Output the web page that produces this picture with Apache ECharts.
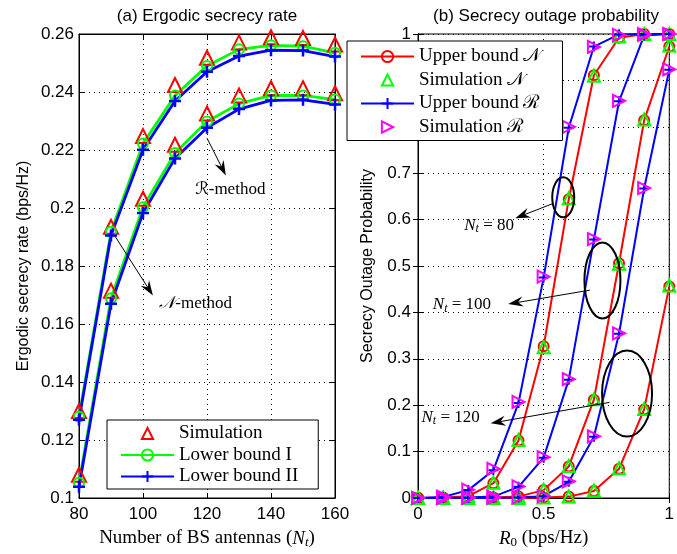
<!DOCTYPE html>
<html><head><meta charset="utf-8">
<script src="https://cdn.jsdelivr.net/npm/echarts@6/dist/echarts.min.js"></script>
<style>html,body{margin:0;padding:0;background:#fff}#c{width:677px;height:554px}</style>
</head><body><div id="c"></div>
<script>
// ---------- data: (a) ergodic secrecy rate ----------
const antennas = [80, 90, 100, 110, 120, 130, 140, 150, 160];
const simN   = [0.130, 0.1935, 0.2248, 0.2424, 0.2518, 0.2571, 0.2589, 0.2586, 0.2564];
const lbI_N  = [0.128, 0.1918, 0.2222, 0.2388, 0.2490, 0.2547, 0.2561, 0.2558, 0.2535];
const lbII_N = [0.127, 0.1905, 0.2201, 0.2369, 0.2470, 0.2524, 0.2544, 0.2543, 0.2522];
const simR   = [0.108, 0.1715, 0.2032, 0.2218, 0.2326, 0.2388, 0.2413, 0.2413, 0.2396];
const lbI_R  = [0.1053, 0.1689, 0.2003, 0.2190, 0.2298, 0.2360, 0.2388, 0.2388, 0.2374];
const lbII_R = [0.1039, 0.1670, 0.1983, 0.2171, 0.2277, 0.2341, 0.2371, 0.2373, 0.2357];
const ticksA_x = [80, 160, 20];
const ticksA_y = [0.1, 0.26, 0.02];

// ---------- data: (b) secrecy outage probability ----------
const R0 = [0, 0.1, 0.2, 0.3, 0.4, 0.5, 0.6, 0.7, 0.8, 0.9, 1.0];
const upN80   = [0, 0.001, 0.004, 0.032, 0.124, 0.327, 0.644, 0.911, 0.992, 1, 1];
const simN80  = [0, 0.001, 0.005, 0.033, 0.125, 0.325, 0.646, 0.910, 0.995, 1, 1];
const upR80   = [0, 0.002, 0.017, 0.060, 0.205, 0.475, 0.798, 0.973, 0.999, 1, 1];
const simR80  = [0, 0.003, 0.018, 0.063, 0.207, 0.477, 0.800, 0.972, 0.998, 1, 1];
const upN100  = [0, 0, 0, 0.001, 0.003, 0.017, 0.068, 0.212, 0.506, 0.814, 0.973];
const simN100 = [0, 0, 0, 0.001, 0.003, 0.018, 0.069, 0.213, 0.505, 0.816, 0.975];
const upR100  = [0, 0, 0.001, 0.003, 0.024, 0.087, 0.255, 0.557, 0.855, 0.997, 1];
const simR100 = [0, 0, 0.001, 0.003, 0.025, 0.088, 0.256, 0.558, 0.856, 0.998, 1];
const upN120  = [0, 0, 0, 0, 0, 0.001, 0.003, 0.015, 0.063, 0.191, 0.456];
const simN120 = [0, 0, 0, 0, 0, 0.001, 0.003, 0.016, 0.064, 0.192, 0.458];
const upR120  = [0, 0, 0, 0, 0.001, 0.004, 0.035, 0.132, 0.354, 0.667, 0.923];
const simR120 = [0, 0, 0, 0, 0.001, 0.004, 0.036, 0.133, 0.355, 0.668, 0.924];
const ticksB_x = [0, 1, 0.5];
const ticksB_y = [0, 1, 0.1];

// ---------- styling ----------
const SANS = 'Liberation Sans, Arial, sans-serif';
const SERIF = 'Liberation Serif, DejaVu Serif, serif';
const MATH = 'DejaVu Serif, DejaVu Sans, Noto Sans, serif';
const TRANSP = 'rgba(0,0,0,0)';
const PLUS = 'path://M5,0L5,10M0,5L10,5';

const pairs = (xs, ys) => xs.map((x, i) => [x, ys[i]]);

function mkLine(name, xs, ys, color, symbol, size, grid, lw, bw) {
  return {
    type: 'line', name, xAxisIndex: grid * 2, yAxisIndex: grid * 2,
    data: pairs(xs, ys), symbol, symbolSize: size, showAllSymbol: true, clip: false,
    lineStyle: { color, width: lw }, itemStyle: { color: TRANSP, borderColor: color, borderWidth: bw },
    emphasis: { disabled: true }, z: 3
  };
}
// markers only (no connecting line)
function mkMarks(name, xs, ys, color, symbol, size, grid, rot) {
  return {
    type: 'line', name, xAxisIndex: grid * 2, yAxisIndex: grid * 2,
    data: pairs(xs, ys), symbol, symbolSize: size, symbolRotate: rot || 0, showAllSymbol: true, clip: false,
    lineStyle: { color, width: 0, opacity: 0 },
    itemStyle: { color: TRANSP, borderColor: color, borderWidth: 2, opacity: 1 },
    emphasis: { disabled: true }, z: 3
  };
}

const gridLine = { show: true, lineStyle: { color: '#000', type: [1, 4], width: 1 } };
const axisLine = { show: true, lineStyle: { color: '#000', width: 1 } };
const tickIn = { show: true, inside: true, length: 5, lineStyle: { color: '#000' } };
const lab = { color: '#000', fontFamily: SANS, fontSize: 17 };

function mainX(g, t, name, gap) {
  return { type: 'value', gridIndex: g, min: t[0], max: t[1], interval: t[2], position: 'bottom',
    axisLine, axisTick: tickIn, splitLine: gridLine, axisLabel: Object.assign({ margin: 8 }, lab),
    name, nameLocation: 'middle', nameGap: gap,
    nameTextStyle: { color: '#000', fontFamily: SERIF, fontSize: 19,
      rich: { n: { fontFamily: SERIF, fontSize: 19, color: '#000' },
              i: { fontFamily: SERIF, fontSize: 19, fontStyle: 'italic', color: '#000' },
              s: { fontFamily: SERIF, fontSize: 13, fontStyle: 'italic', color: '#000', verticalAlign: 'bottom', padding: [8, 0, 0, 0] },
              s0: { fontFamily: SERIF, fontSize: 13, color: '#000', verticalAlign: 'bottom', padding: [8, 0, 0, 0] } } } };
}
function boxX(g, t) {
  return { type: 'value', gridIndex: g, min: t[0], max: t[1], interval: t[2], position: 'top',
    axisLine, axisTick: tickIn, splitLine: { show: false }, axisLabel: { show: false } };
}
function mainY(g, t, name, gap, margin) {
  return { type: 'value', gridIndex: g, min: t[0], max: t[1], interval: t[2], position: 'left',
    axisLine, axisTick: tickIn, splitLine: gridLine, axisLabel: Object.assign({ margin }, lab),
    name, nameLocation: 'middle', nameGap: gap,
    nameTextStyle: { color: '#000', fontFamily: SANS, fontSize: 16 } };
}
function boxY(g, t) {
  return { type: 'value', gridIndex: g, min: t[0], max: t[1], interval: t[2], position: 'right',
    axisLine, axisTick: tickIn, splitLine: { show: false }, axisLabel: { show: false } };
}

const legendText = { fontFamily: SERIF, fontSize: 19, color: '#000' };
const noLine = { lineStyle: { opacity: 0, width: 0 } };

const option = {
  animation: false,
  backgroundColor: '#fff',
  grid: [
    { left: 79, right: 342, top: 34, bottom: 49, show: true, borderColor: '#000', borderWidth: 1, backgroundColor: '#fff' },
    { left: 418, right: 3, top: 34, bottom: 49, show: true, borderColor: '#000', borderWidth: 1, backgroundColor: '#fff' }
  ],
  xAxis: [
    mainX(0, ticksA_x, '{n|Number of BS antennas (}{i|N}{s|t}{n|)}', 30),
    boxX(0, ticksA_x),
    mainX(1, ticksB_x, '{i|R}{s0|0}{n| (bps/Hz)}', 30),
    boxX(1, ticksB_x)
  ],
  yAxis: [
    mainY(0, ticksA_y, 'Ergodic secrecy rate (bps/Hz)', 47, 5),
    boxY(0, ticksA_y),
    mainY(1, ticksB_y, 'Secrecy Outage Probability', 42, 7),
    boxY(1, ticksB_y)
  ],
  legend: [
    { data: [Object.assign({ name: 'Simulation' }, noLine), 'Lower bound I', 'Lower bound II'],
      orient: 'vertical', left: 107, top: 420,
      itemWidth: 53, itemHeight: 14, itemGap: 2.5, padding: [4, 20, 3, 13], backgroundColor: '#fff',
      borderColor: '#000', borderWidth: 1, borderRadius: 0, textStyle: legendText, selectedMode: false, z: 10 },
    { data: ['Upper bound 𝒩', Object.assign({ name: 'Simulation 𝒩' }, noLine), 'Upper bound ℛ', Object.assign({ name: 'Simulation ℛ' }, noLine)],
      orient: 'vertical', left: 347, top: 41,
      itemWidth: 53, itemHeight: 14, itemGap: 4.5, padding: [6, 21, 4, 13], backgroundColor: '#fff',
      borderColor: '#000', borderWidth: 1, borderRadius: 0, textStyle: legendText, selectedMode: false, z: 10 }
  ],
  series: [
    mkMarks('Simulation', antennas, simN, '#ff0000', 'triangle', 14, 0),
    mkMarks('Simulation', antennas, simR, '#ff0000', 'triangle', 14, 0),
    mkLine('Lower bound I', antennas, lbI_N, '#00ff00', 'circle', 10, 0, 2.8, 2),
    mkLine('Lower bound I', antennas, lbI_R, '#00ff00', 'circle', 10, 0, 2.8, 2),
    mkLine('Lower bound II', antennas, lbII_N, '#0000ff', PLUS, 12, 0, 2.8, 2.5),
    mkLine('Lower bound II', antennas, lbII_R, '#0000ff', PLUS, 12, 0, 2.8, 2.5),

    mkLine('Upper bound 𝒩', R0, upN80, '#ff0000', 'circle', 10, 1, 2, 2),
    mkLine('Upper bound 𝒩', R0, upN100, '#ff0000', 'circle', 10, 1, 2, 2),
    mkLine('Upper bound 𝒩', R0, upN120, '#ff0000', 'circle', 10, 1, 2, 2),
    mkMarks('Simulation 𝒩', R0, simN80, '#00ff00', 'triangle', 12, 1),
    mkMarks('Simulation 𝒩', R0, simN100, '#00ff00', 'triangle', 12, 1),
    mkMarks('Simulation 𝒩', R0, simN120, '#00ff00', 'triangle', 12, 1),
    mkLine('Upper bound ℛ', R0, upR80, '#0000ff', PLUS, 10, 1, 2, 2),
    mkLine('Upper bound ℛ', R0, upR100, '#0000ff', PLUS, 10, 1, 2, 2),
    mkLine('Upper bound ℛ', R0, upR120, '#0000ff', PLUS, 10, 1, 2, 2),
    mkMarks('Simulation ℛ', R0, simR80, '#ff00ff', 'triangle', 12, 1, -90),
    mkMarks('Simulation ℛ', R0, simR100, '#ff00ff', 'triangle', 12, 1, -90),
    mkMarks('Simulation ℛ', R0, simR120, '#ff00ff', 'triangle', 12, 1, -90)
  ]
};

const chart = echarts.init(document.getElementById('c'), null, { renderer: 'canvas' });
chart.setOption(option);

// ---------- annotations (anchored in data coordinates) ----------
const P = (g, pt) => chart.convertToPixel({ gridIndex: g }, pt);
const annoRich = {
  m: { fontFamily: SERIF, fontSize: 17, fill: '#000' },
  r: { fontFamily: MATH, fontSize: 17, fontStyle: 'italic', fill: '#000' },
  i: { fontFamily: SERIF, fontSize: 17, fontStyle: 'italic', fill: '#000' },
  s: { fontFamily: SERIF, fontSize: 12, fontStyle: 'italic', fill: '#000', verticalAlign: 'bottom', padding: [8, 0, 0, 0] }
};
const annotations = [
  { g: 0, text: '{r|ℛ}{m|-method}', at: [116.3, 0.2062], from: [120, 0.2241], to: [125.9, 0.2112] },
  { g: 0, text: '{r|𝒩}{m|-method}', at: [105.1, 0.1670], from: [91.3, 0.1902], to: [103.1, 0.1698] },
  { g: 1, text: '{i|N}{s|t}{m| = 80}', at: [0.184, 0.588], from: [0.539, 0.635], to: [0.387, 0.603] },
  { g: 1, text: '{i|N}{s|t}{m| = 100}', at: [0.059, 0.416], from: [0.684, 0.448], to: [0.359, 0.418] },
  { g: 1, text: '{i|N}{s|t}{m| = 120}', at: [0.014, 0.174], from: [0.762, 0.206], to: [0.289, 0.161] }
];
const ellipses = [
  { center: [0.578, 0.648], rx: 11, ry: 20 },
  { center: [0.734, 0.469], rx: 18, ry: 38 },
  { center: [0.832, 0.225], rx: 25, ry: 43 }
];

function arrow(a, b) {
  const dx = b[0] - a[0], dy = b[1] - a[1], L = Math.hypot(dx, dy), ux = dx / L, uy = dy / L, nx = -uy, ny = ux;
  const len = 15, hw = 5, notch = 5;
  const base = [b[0] - ux * len, b[1] - uy * len];
  const nt = [b[0] - ux * (len - notch), b[1] - uy * (len - notch)];
  return [
    { type: 'line', z: 100, silent: true, shape: { x1: a[0], y1: a[1], x2: nt[0], y2: nt[1] }, style: { stroke: '#000', lineWidth: 1 } },
    { type: 'polygon', z: 100, silent: true, shape: { points: [b, [base[0] + nx * hw, base[1] + ny * hw], nt, [base[0] - nx * hw, base[1] - ny * hw]] }, style: { fill: '#000' } }
  ];
}

const graphics = [
  { type: 'text', x: 207, y: 16, z: 100, style: { text: '(a) Ergodic secrecy rate', fontFamily: SANS, fontSize: 17, fill: '#000', align: 'center', verticalAlign: 'middle' } },
  { type: 'text', x: 546, y: 16, z: 100, style: { text: '(b) Secrecy outage probability', fontFamily: SANS, fontSize: 17, fill: '#000', align: 'center', verticalAlign: 'middle' } }
];
annotations.forEach(a => {
  const p = P(a.g, a.at);
  graphics.push({ type: 'text', x: p[0], y: p[1], z: 100, silent: true,
    style: { text: a.text, rich: annoRich, fontFamily: SERIF, fontSize: 17, fill: '#000', align: 'left', verticalAlign: 'middle' } });
  graphics.push(...arrow(P(a.g, a.from), P(a.g, a.to)));
});
ellipses.forEach(e => {
  const c = P(1, e.center);
  graphics.push({ type: 'ellipse', z: 100, silent: true, shape: { cx: c[0], cy: c[1], rx: e.rx, ry: e.ry }, style: { fill: null, stroke: '#000', lineWidth: 2 } });
});
chart.setOption({ graphic: graphics });
</script>
</body></html>
